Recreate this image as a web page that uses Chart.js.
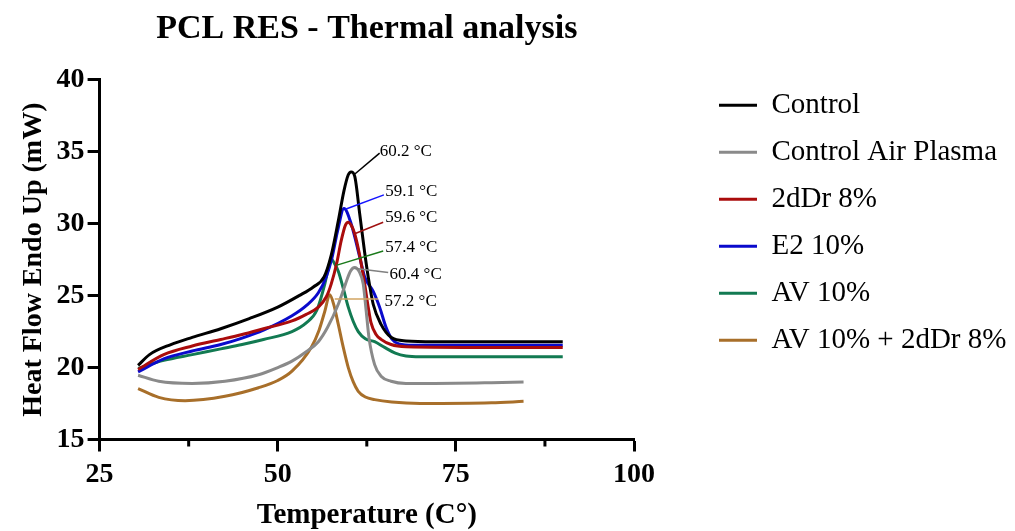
<!DOCTYPE html>
<html lang="en">
<head>
<meta charset="UTF-8">
<title>PCL RES - Thermal analysis</title>
<script src="https://cdn.jsdelivr.net/npm/chart.js"></script>
<style>
  html, body { margin: 0; padding: 0; background: #fff; }
  #wrap { width: 1015px; height: 531px; }
</style>
</head>
<body>
<div id="wrap"><canvas id="dscChart"></canvas></div>
<script>
// series names + colours (legend order)
const seriesNames = ['Control', 'Control Air Plasma', '2dDr 8%', 'E2 10%', 'AV 10%', 'AV 10% + 2dDr 8%'];
const seriesColors = ['#000000', '#8a8a8a', '#aa0c0c', '#0a0acc', '#127a52', '#a86f2a'];

// temperature (C) / heat flow (mW)
const controlTemp = [30.4, 32, 35, 38, 42, 46, 50, 53, 55, 56.5, 57.5, 58.5, 59.3, 59.9, 60.3, 60.8, 61.5, 62.2, 62.7, 63.4, 64.5, 65.9, 68, 72, 80, 90];
const controlHeat = [20.15, 20.9, 21.6, 22.1, 22.7, 23.4, 24.2, 25.0, 25.6, 26.3, 27.8, 30.2, 32.3, 33.4, 33.6, 33.3, 30.7, 28.0, 26.3, 24.4, 23.0, 22.1, 21.85, 21.8, 21.8, 21.8];

const airPlasmaTemp = [30.4, 33.3, 38, 42.6, 47.3, 50, 52, 54, 55.7, 57, 58.5, 59.5, 60.2, 60.8, 61.4, 62.0, 62.4, 62.8, 63.6, 64.5, 65.9, 68, 72, 80, 84.5];
const airPlasmaHeat = [19.47, 19.05, 18.9, 19.05, 19.5, 20.0, 20.45, 21.1, 21.8, 22.8, 24.4, 25.8, 26.7, 26.96, 26.7, 25.8, 24.0, 22.1, 20.2, 19.4, 19.05, 18.9, 18.9, 18.95, 19.0];

const dDrTemp = [30.4, 34, 38, 42, 45, 48, 52, 54, 55.7, 56.8, 57.5, 58.3, 58.9, 59.5, 59.9, 60.3, 60.8, 61.5, 62.2, 62.7, 63.1, 63.8, 64.5, 65.9, 68, 80, 90];
const dDrHeat = [19.87, 20.9, 21.5, 21.95, 22.3, 22.7, 23.24, 23.7, 24.2, 24.9, 25.8, 27.3, 28.8, 29.9, 30.1, 29.9, 29.3, 27.8, 25.8, 24.2, 23.1, 22.3, 21.96, 21.6, 21.45, 21.4, 21.4];

const e2Temp = [30.4, 34, 38, 42, 45, 48, 52, 54, 55.7, 56.8, 57.6, 58.4, 59.3, 60.3, 61.5, 62.2, 63.4, 64.3, 65.2, 66, 67, 69, 80, 90];
const e2Heat = [19.7, 20.6, 21.15, 21.6, 22.05, 22.6, 23.6, 24.3, 25.2, 26.3, 27.6, 29.5, 31.05, 30.0, 27.7, 26.3, 25.3, 24.2, 22.8, 22.0, 21.65, 21.55, 21.55, 21.55];

const avTemp = [30.4, 34, 38, 42, 45, 48, 52, 54, 55.5, 56.6, 57.1, 57.5, 58, 58.5, 59.2, 59.9, 60.6, 61.3, 62.3, 63.6, 65, 66.5, 68, 70, 80, 90];
const avHeat = [19.94, 20.5, 20.9, 21.3, 21.6, 21.95, 22.5, 23.1, 24.0, 25.8, 26.9, 27.55, 27.2, 26.7, 25.5, 24.2, 23.2, 22.5, 22.0, 21.8, 21.4, 21.0, 20.8, 20.75, 20.75, 20.75];

const avDrTemp = [30.4, 33.3, 37, 42.6, 47.3, 50, 52, 54.7, 55.8, 56.6, 57.3, 57.9, 58.5, 59.2, 59.9, 60.6, 61.3, 62.3, 63.6, 66, 70, 80, 84.5];
const avDrHeat = [18.54, 17.93, 17.7, 18.0, 18.6, 19.1, 19.75, 21.4, 22.6, 23.9, 25.06, 24.3, 23.0, 21.4, 20.0, 19.0, 18.35, 17.95, 17.77, 17.6, 17.5, 17.55, 17.65];

// peak labels: text, leader colour, leader start/end and text anchor (data units)
const peakLabels = ['60.2 \u00b0C', '59.1 \u00b0C', '59.6 \u00b0C', '57.4 \u00b0C', '60.4 \u00b0C', '57.2 \u00b0C'];
const peakLeaderColors = ['#000000', '#1414ff', '#a01010', '#1a7a1a', '#808080', '#d2a462'];
const leaderFrom = [[60.7, 33.4], [59.5, 31.0], [60.8, 29.3], [58.2, 27.1], [60.7, 26.9], [58.0, 24.76]];
const leaderTo = [[64.3, 34.9], [64.9, 32.0], [64.8, 30.1], [64.8, 28.1], [65.5, 26.6], [64.1, 24.76]];
const labelAt = [[64.3, 35.0], [65.1, 32.2], [65.1, 30.4], [65.1, 28.36], [65.7, 26.45], [65.0, 24.6]];

const xTicks = [25, 50, 75, 100];
const xMinorTicks = [37.5, 62.5, 87.5];

const serif = "'Liberation Serif', 'Times New Roman', serif";
Chart.defaults.font.family = serif;
Chart.defaults.color = '#000';

function toPoints(temps, heats) {
    return temps.map((t, i) => ({ x: t, y: heats[i] }));
}

const allTemps = [controlTemp, airPlasmaTemp, dDrTemp, e2Temp, avTemp, avDrTemp];
const allHeats = [controlHeat, airPlasmaHeat, dDrHeat, e2Heat, avHeat, avDrHeat];

const datasets = seriesNames.map((name, i) => ({
    label: name,
    data: toPoints(allTemps[i], allHeats[i]),
    borderColor: seriesColors[i],
    backgroundColor: seriesColors[i],
    borderWidth: 3,
    pointRadius: 0,
    fill: false,
    cubicInterpolationMode: 'monotone'
}));

// move the legend block next to the plot (Chart.js has no offset option)
const legendPlace = {
    id: 'legendPlace',
    afterLayout(chart, args, opts) {
        const lg = chart.legend;
        lg.left = chart.chartArea.right + opts.gap;
        lg.right = chart.width;
        lg.top = chart.chartArea.top + opts.dy;
    }
};

// short minor ticks on the x axis
const minorTicks = {
    id: 'minorTicks',
    afterDraw(chart) {
        const x = chart.scales.x;
        const ctx = chart.ctx;
        ctx.save();
        ctx.strokeStyle = '#000';
        ctx.lineWidth = 3;
        xMinorTicks.forEach(v => {
            const px = x.getPixelForValue(v);
            ctx.beginPath();
            ctx.moveTo(px, chart.chartArea.bottom);
            ctx.lineTo(px, chart.chartArea.bottom + 7);
            ctx.stroke();
        });
        ctx.restore();
    }
};

// peak temperature labels with leader lines
const peakNotes = {
    id: 'peakNotes',
    afterDatasetsDraw(chart) {
        const { x, y } = chart.scales;
        const ctx = chart.ctx;
        ctx.save();
        ctx.font = '17px ' + serif;
        ctx.textAlign = 'left';
        ctx.textBaseline = 'middle';
        peakLabels.forEach((txt, i) => {
            ctx.strokeStyle = peakLeaderColors[i];
            ctx.lineWidth = 1.5;
            ctx.beginPath();
            ctx.moveTo(x.getPixelForValue(leaderFrom[i][0]), y.getPixelForValue(leaderFrom[i][1]));
            ctx.lineTo(x.getPixelForValue(leaderTo[i][0]), y.getPixelForValue(leaderTo[i][1]));
            ctx.stroke();
            ctx.fillStyle = '#000';
            ctx.fillText(txt, x.getPixelForValue(labelAt[i][0]), y.getPixelForValue(labelAt[i][1]));
        });
        ctx.restore();
    }
};

new Chart(document.getElementById('dscChart'), {
    type: 'line',
    data: { datasets: datasets },
    options: {
        responsive: true,
        maintainAspectRatio: false,
        animation: false,
        layout: { padding: { left: 0, right: 181, top: 0, bottom: 0 } },
        plugins: {
            title: {
                display: true,
                fullSize: false,
                text: 'PCL RES - Thermal analysis',
                font: { size: 34, weight: 'bold' },
                color: '#000',
                padding: { top: 9, bottom: 30 }
            },
            legend: {
                position: 'right',
                align: 'start',
                fullSize: false,
                maxWidth: 200,
                labels: {
                    font: { size: 29 },
                    color: '#000',
                    boxWidth: 38,
                    boxHeight: 3,
                    padding: 18,
                    generateLabels(chart) {
                        const items = Chart.defaults.plugins.legend.labels.generateLabels(chart);
                        items.forEach(it => { it.lineWidth = 0; });
                        return items;
                    }
                }
            },
            legendPlace: { gap: 67, dy: -7 },
            tooltip: { enabled: false }
        },
        scales: {
            x: {
                type: 'linear',
                min: 25,
                max: 100,
                afterBuildTicks(scale) {
                    scale.ticks = xTicks.map(v => ({ value: v }));
                },
                ticks: { font: { size: 28, weight: 'bold' }, color: '#000', padding: 6 },
                grid: { drawOnChartArea: false, drawTicks: true, tickLength: 12, tickWidth: 3, tickColor: '#000' },
                border: { display: true, color: '#000', width: 3 },
                title: {
                    display: true,
                    text: 'Temperature (C\u00b0)',
                    font: { size: 29, weight: 'bold', lineHeight: 1.1 },
                    color: '#000',
                    padding: { top: 2, bottom: 0 }
                }
            },
            y: {
                min: 15,
                max: 40,
                ticks: { stepSize: 5, font: { size: 28, weight: 'bold' }, color: '#000', padding: 3 },
                grid: { drawOnChartArea: false, drawTicks: true, tickLength: 12, tickWidth: 3, tickColor: '#000' },
                border: { display: true, color: '#000', width: 3 },
                title: {
                    display: true,
                    text: 'Heat Flow Endo Up (mW)',
                    font: { size: 28, weight: 'bold' },
                    color: '#000',
                    padding: { top: 17, bottom: 3 }
                }
            }
        }
    },
    plugins: [legendPlace, minorTicks, peakNotes]
});
</script>
</body>
</html>
